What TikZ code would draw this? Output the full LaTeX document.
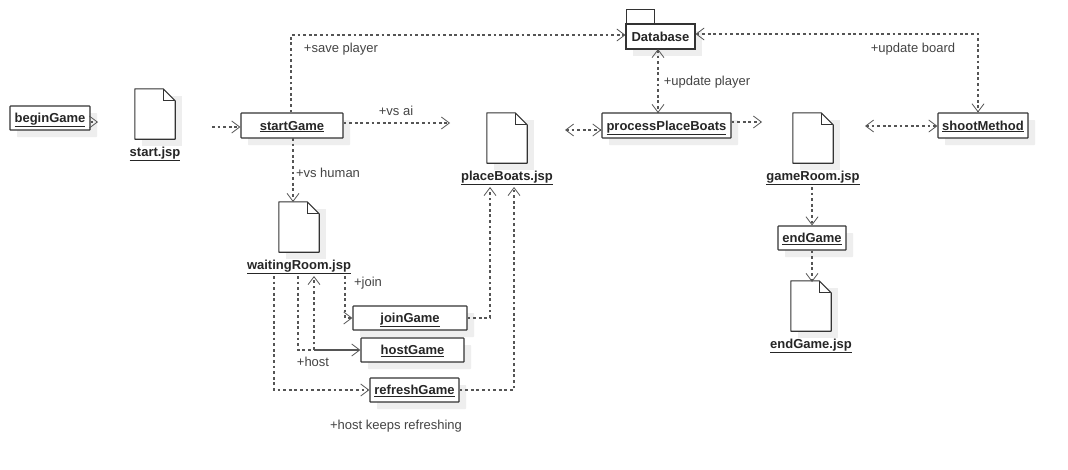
\documentclass[tikz,border=0pt]{standalone}
\usepackage{fontspec}
\setmainfont{Liberation Sans}
\usetikzlibrary{arrows.meta,shadows}
\definecolor{ln}{HTML}{333333}
\definecolor{dsh}{HTML}{555555}
\definecolor{txt}{HTML}{444444}
\definecolor{shd}{HTML}{EEEEEE}
\newcommand\boldtext{\fontsize{13}{14}\selectfont\bfseries}
\tikzset{
  x=1pt,y=-1pt,
  barb/.tip={Straight Barb[length=8pt,width=12pt,line width=0.8pt]},
  objbox/.style={draw=ln,line width=1.2pt,fill=white,rounded corners=0.6pt,inner sep=0pt,font=\boldtext,text=black!85,
    text height=11pt,text depth=2pt,
    minimum width=#1,drop shadow={shadow xshift=7pt,shadow yshift=-7pt,fill=shd,opacity=1}},
  objbox/.default=80pt,
  flow/.style={draw=dsh,line width=1.2pt,dash pattern=on 2.8pt off 2.8pt,-barb},
  flowboth/.style={flow,barb-barb},
  plainflow/.style={flow,-},
  solidflow/.style={flow,solid},
  note/.style={font=\fontsize{13}{14}\selectfont,text=txt,inner sep=0pt},
  doclabel/.style={font=\boldtext,text=black!85,inner sep=0pt,text height=11pt,text depth=2pt},
  docbody/.style={minimum width=40pt,minimum height=50pt,inner sep=0pt},
}
\newcommand\docfile[5]{%
  \node[docbody] (#1) at (#2,#3) {};
  \fill[shd] ([shift={(7pt,-7pt)}]#1.south west) rectangle ([shift={(7pt,-7pt)}]#1.north east);
  \draw[ln,line width=1.1pt,fill=white,line join=round] (#1.south west) -- (#1.north west) -- ([xshift=-12pt]#1.north east) -- ([yshift=-12pt]#1.north east) -- (#1.south east) -- cycle;
  \draw[ln,line width=0.8pt] ([xshift=-12pt]#1.north east) -- ([xshift=-12pt,yshift=-12pt]#1.north east) -- ([yshift=-12pt]#1.north east);
  \node[doclabel] (#4) at (#2,#3+38) {\underline{#5}};
}
\newcommand\objnode[6]{% name, x1, y1, x2, y2, text
  \node[objbox=#4pt-#2pt,minimum height=#5pt-#3pt] (#1) at ({(#2+#4)/2},{(#3+#5)/2}) {\underline{#6}};
}
\begin{document}
\begin{tikzpicture}
\useasboundingbox (0,0) rectangle (1068,469);
\fill[white] (0,0) rectangle (1068,469);
% boxes
\objnode{begin}{10}{106}{90}{130}{beginGame}
\objnode{startg}{241}{113}{343}{138}{startGame}
\objnode{process}{602}{113}{731}{138}{processPlaceBoats}
\objnode{shoot}{938}{113}{1028}{138}{shootMethod}
\objnode{endg}{778}{226}{846}{250}{endGame}
\objnode{join}{353}{306}{467}{330}{joinGame}
\objnode{host}{361}{338}{464}{362}{hostGame}
\objnode{refresh}{370}{378}{459}{402}{refreshGame}
% documents
\docfile{startdoc}{155}{114}{startlab}{start.jsp}
\docfile{waitdoc}{299}{227}{waitlab}{waitingRoom.jsp}
\docfile{placedoc}{507}{138}{placelab}{placeBoats.jsp}
\docfile{gamedoc}{813}{138}{gamelab}{gameRoom.jsp}
\docfile{enddoc}{811}{306}{endlab}{endGame.jsp}
% database package
\fill[shd] (633,31) rectangle (702,56);
\node[draw=ln,line width=0.8pt,fill=white,minimum width=28pt,minimum height=14.5pt,inner sep=0pt] (dbtab) at (640,16.8) {};
\node[draw=ln,line width=1.1pt,fill=white,minimum width=69pt,minimum height=25pt,inner sep=0pt,font=\boldtext,text=black!85] (db) at (660.5,36.5) {Database};
% free ends
\coordinate (beginEnd) at (98,122);
\coordinate (startIn) at (212,127);
\coordinate (aiEnd) at (450,123);
\coordinate (ppbLeft) at (565,130);
\coordinate (ppbEnd) at (762,122);
\coordinate (shootLeft) at (865,126);
\coordinate (saveCorner) at (291,35);
\coordinate (boardCorner) at (978,34);
\coordinate (joinA) at (345,276);
\coordinate (hostA) at (298,276);
\coordinate (hostUp) at (314,276);
\coordinate (hostMid) at (314,350);
\coordinate (refreshA) at (274,276);
\coordinate (placeIn) at (490,187);
\coordinate (placeIn2) at (514,187);
\coordinate (gameOut) at (812,187);
% connectors
\draw[flow] (begin.east |- beginEnd) -- (beginEnd);
\draw[flow] (startIn) -- (startg.west |- startIn);
\draw[flow] (startg.east |- aiEnd) -- (aiEnd);
\draw[flow] (saveCorner |- startg.north) -- (saveCorner) -- (saveCorner -| db.west);
\draw[flow] (293,138) -- (293,202);
\draw[flowboth] (658,49) -- (658,113);
\draw[flowboth,line width=1.5pt] (boardCorner -| db.east) -- (boardCorner) -- (boardCorner |- shoot.north);
\draw[flowboth] (ppbLeft) -- (process.west |- ppbLeft);
\draw[flow] (process.east |- ppbEnd) -- (ppbEnd);
\draw[flowboth] (shootLeft) -- (shoot.west |- shootLeft);
\draw[flow] (gameOut) -- (gameOut |- endg.north);
\draw[flow] (gameOut |- endg.south) -- (812,282);
\draw[flow] (joinA) -- (joinA |- join.west) -- (join.west);
\draw[plainflow] (hostA) -- (hostA |- host.west) -- (hostMid);
\draw[solidflow] (hostMid) -- (host.west);
\draw[flow] (hostMid) -- (hostUp);
\draw[flow] (refreshA) -- (refreshA |- refresh.west) -- (refresh.west);
\draw[flow] (join.east) -- (placeIn |- join.east) -- (placeIn);
\draw[flow] (refresh.east) -- (placeIn2 |- refresh.east) -- (placeIn2);
% labels
\node[note] (n1) at (341,49.5) {+save player};
\node[note] (n2) at (396,111) {+vs ai};
\node[note] (n3) at (328,173) {+vs human};
\node[note] (n4) at (707,82) {+update player};
\node[note] (n5) at (913,49.5) {+update board};
\node[note] (n6) at (368,283) {+join};
\node[note] (n7) at (313,362) {+host};
\node[note] (n8) at (396,426) {+host keeps refreshing};
\end{tikzpicture}
\end{document}
